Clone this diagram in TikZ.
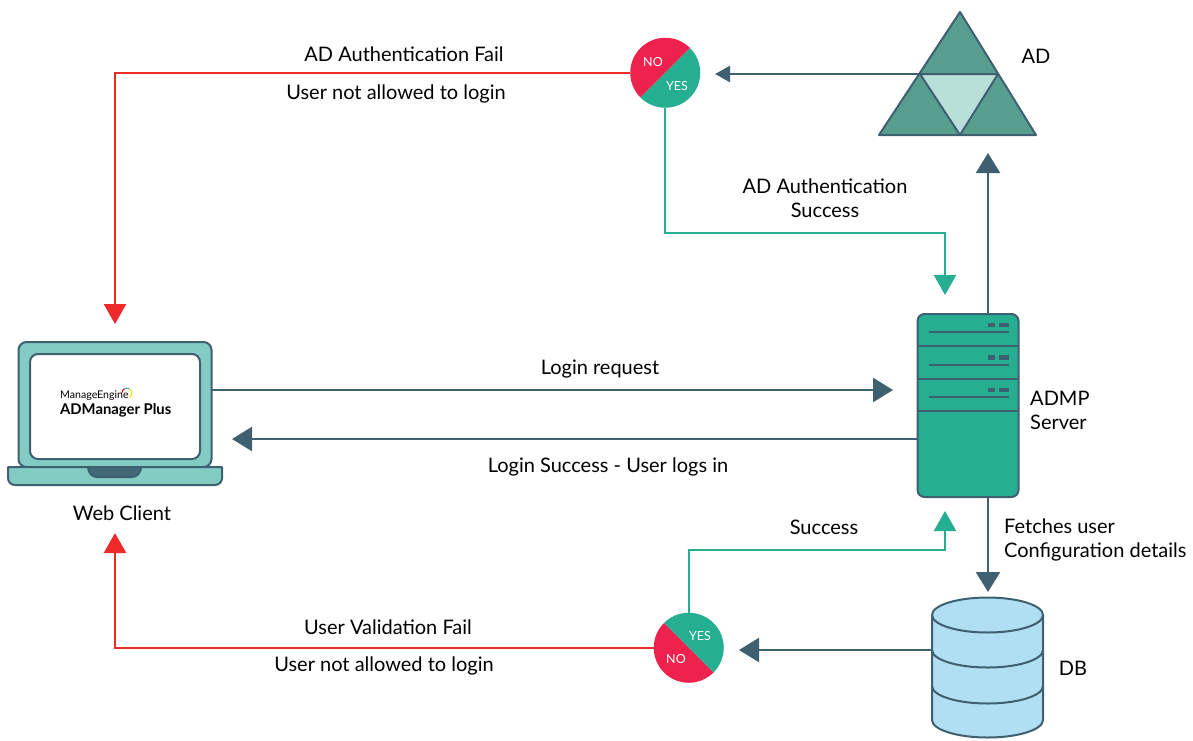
\documentclass[tikz,border=0pt]{standalone}
\usepackage{fontspec}
\setmainfont{Lato}
\usetikzlibrary{arrows.meta}
\definecolor{slateline}{HTML}{3E6070}
\definecolor{tealfill}{HTML}{26AE91}
\definecolor{failred}{HTML}{EE2A2A}
\definecolor{nored}{HTML}{EE224C}
\definecolor{lidfill}{HTML}{83CCC3}
\definecolor{adfill}{HTML}{589E8F}
\definecolor{adlight}{HTML}{B8E0D8}
\definecolor{dbfill}{HTML}{B0DEF2}
\tikzset{
  lbl/.style={inner sep=0pt, font=\fontsize{20}{24}\selectfont, align=center},
  lblleft/.style={lbl, anchor=west, align=left},
  tiny/.style={inner sep=0pt, text=white, font=\fontsize{12.5}{14}\selectfont},
  part/.style={draw=slateline, line width=2pt, line join=round},
  checkmark/.style={outer sep=0pt, inner sep=0pt, minimum size=70pt, circle},
  flow/.style={draw=slateline, line width=2.4pt, -{Triangle[length=20pt,width=24pt]}},
  flowsmall/.style={draw=slateline, line width=2.4pt, -{Triangle[length=15pt,width=16pt]}},
  failflow/.style={draw=failred, line width=2.4pt, -{Triangle[length=20pt,width=22pt]}},
  passflow/.style={draw=tealfill, line width=2.4pt, -{Triangle[length=20pt,width=22pt]}},
}
\begin{document}
\begin{tikzpicture}[x=1pt, y=-1pt]
\useasboundingbox (0,0) rectangle (1193,740);
% laptop
\node[part, fill=lidfill, rounded corners=8pt, outer sep=0pt, minimum width=193pt, minimum height=125pt] (client) at (115,404.5) {};
\node[part, fill=white, rounded corners=8pt, outer sep=0pt, minimum width=170pt, minimum height=105pt] (screen) at (115,406.5) {};
\draw[part, fill=lidfill] (8,467) -- (222,467) -- (222,478) arc (0:90:7) -- (15,485) arc (90:180:7) -- cycle;
\draw[part, fill=slateline!85!adfill] (88,467) -- (141,467) arc (0:90:9 and 10) -- (97,477) arc (90:180:9 and 10) -- cycle;
\node[inner sep=0pt, anchor=west, font=\fontsize{10.6}{12}\selectfont] (brand) at (60,395.5) {ManageEngine};
\node[inner sep=0pt, anchor=west, font=\fontsize{14.8}{16}\selectfont\bfseries] (product) at (60,410) {ADManager Plus};
\draw[line width=1pt, red!80!black] (122,393) arc (180:240:5);
\draw[line width=1pt, tealfill] (124.5,388.7) arc (240:300:5);
\draw[line width=1pt, yellow!80!orange] (129.5,388.7) arc (300:420:5);
% server
\node[part, fill=tealfill, rounded corners=7pt, outer sep=0pt, minimum width=101pt, minimum height=183pt] (server) at (968,405.5) {};
\draw[part] (917,346) -- (1019,346);
\draw[part] (917,379) -- (1019,379);
\draw[part] (917,411) -- (1019,411);
\foreach \y in {0,32.5,65} {
  \draw[part] (929,332+\y) -- (1009,332+\y);
  \fill[slateline] (988,322.5+\y) rectangle (995,327+\y);
  \fill[slateline] (999,322.5+\y) rectangle (1009,327+\y);
}
% AD
\draw[part, fill=adfill] (960,12) -- (1036,135) -- (879,135) -- cycle;
\draw[part, fill=adlight] (920,74) -- (998,74) -- (960,135) -- cycle;
\coordinate (adleft) at (920,74);
% DB
\draw[part, fill=dbfill] (932,615) arc (180:360:55.5 and 17.5) -- (1043,720) arc (0:180:55.5 and 17.5) -- cycle;
\draw[part] (932,615) arc (180:0:55.5 and 17.5);
\draw[part] (932,650) arc (180:0:55.5 and 17.5);
\draw[part] (932,686) arc (180:0:55.5 and 17.5);
\coordinate (dbleft) at (932,650);
% decisions
\node[checkmark] (adcheck) at (665,73) {};
\fill[nored] (690,48) arc (-45:-225:35) -- cycle;
\fill[tealfill] (690,48) arc (-45:135:35) -- cycle;
\node[tiny] (adno) at (653,62) {NO};
\node[tiny] (adyes) at (677,86) {YES};
\node[checkmark] (dbcheck) at (689,648) {};
\fill[tealfill] (664,623) arc (225:405:35) -- cycle;
\fill[nored] (664,623) arc (225:45:35) -- cycle;
\node[tiny] (dbyes) at (700,636) {YES};
\node[tiny] (dbno) at (676,659) {NO};
% free ends
\coordinate (logintip) at (893,390);
\coordinate (backtip) at (232,439);
\coordinate (adchecktip) at (715,74);
\coordinate (dbchecktip) at (739,650);
\coordinate (uptip) at (988,153);
\coordinate (downtip) at (988,592);
\coordinate (failtop) at (115,324);
\coordinate (failbottom) at (115,533);
\coordinate (passtop) at (945,295);
\coordinate (passbottom) at (945,511);
\coordinate (passtopbend) at (945,233);
\coordinate (passbottombend) at (945,550);
% connectors
\draw[flow] (client.east |- logintip) -- (logintip);
\draw[flow] (server.west |- backtip) -- (backtip);
\draw[flowsmall] (adleft) -- (adchecktip);
\draw[flow] (dbleft) -- (dbchecktip);
\draw[flow] (server.north -| uptip) -- (uptip);
\draw[flow] (server.south -| downtip) -- (downtip);
\draw[failflow] (adcheck.west) -| (failtop);
\draw[failflow] (dbcheck.west) -| (failbottom);
\draw[passflow] (adcheck.south) |- (passtopbend) -- (passtop);
\draw[passflow] (dbcheck.north) |- (passbottombend) -- (passbottom);
% labels
\node[lbl] (adfail) at (404,54) {AD Authentication Fail};
\node[lbl] (adnologin) at (396,94) {User not allowed to login};
\node[lbl] (adname) at (1036,56) {AD};
\node[lbl] (adsuccess) at (825,198.5) {AD Authentication\\Success};
\node[lbl] (loginreq) at (600,369) {Login request};
\node[lbl] (loginok) at (608,467) {Login Success - User logs in};
\node[lblleft] (servername) at (1030,410.5) {ADMP\\Server};
\node[lbl] (clientname) at (122,513) {Web Client};
\node[lbl] (dbsuccess) at (824,527) {Success};
\node[lblleft] (fetches) at (1004,539.5) {Fetches user\\Configuration details};
\node[lbl] (dbfail) at (388,627) {User Validation Fail};
\node[lbl] (dbnologin) at (384,666) {User not allowed to login};
\node[lbl] (dbname) at (1073,668) {DB};
\end{tikzpicture}
\end{document}
